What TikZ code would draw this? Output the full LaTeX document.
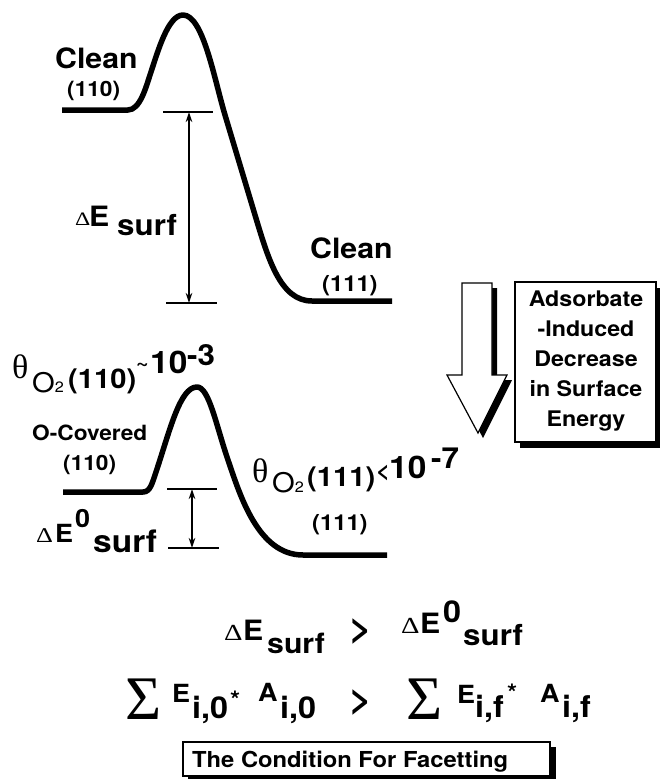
\documentclass[tikz,border=0pt]{standalone}
\usepackage{fontspec}
\setmainfont{TeX Gyre Heros}[FakeStretch=1.08]
\newfontfamily\symf{Liberation Serif}
\newfontfamily\symw{Liberation Serif}[FakeStretch=1.25]
\usetikzlibrary{arrows.meta}
\newcommand\fsz[1]{\fontsize{#1}{#1}\selectfont}
\newcommand\GDelta{\char"0394\relax}
\newcommand\Gtheta{\char"03B8\relax}
\newcommand\GSigma{\char"03A3\relax}
\tikzset{
  lbl/.style={inner sep=0pt, anchor=base west, font=\bfseries\fsz{#1}},
  rlbl/.style={inner sep=0pt, anchor=base west, font=\fsz{#1}},
  sym/.style={inner sep=0pt, anchor=base west, font=\symf\fsz{#1}},
  dsym/.style={inner sep=0pt, anchor=base west, font=\symw\fsz{#1}},
  curve/.style={line width=5.5pt, line join=round},
  ticks/.style={line width=1.4pt},
  dimarrow/.style={line width=1.8pt, {Stealth[length=10pt,width=6.5pt]}-{Stealth[length=10pt,width=6.5pt]}},
  framebox/.style={draw=black, fill=white, line width=1.4pt},
  shadowfill/.style={fill=black},
}
\begin{document}
\begin{tikzpicture}[x=1pt, y=-1pt]
\useasboundingbox (0,0) rectangle (660,779);

% ---------- top energy profile ----------
\draw[curve] (62,110) -- (128,110) .. controls (140,110) and (146,87) .. (150,75)
  .. controls (158,51) and (168,15) .. (183,15)
  .. controls (203,15) and (214,78) .. (225,115) -- (255,215)
  .. controls (268,258) and (280,301) .. (312,301) -- (392,301);
\coordinate (t1a) at (163,112); \coordinate (t1b) at (213,112);
\coordinate (t2a) at (166,303); \coordinate (t2b) at (217,303);
\coordinate (d1a) at (189,112); \coordinate (d1b) at (189,303);
\draw[ticks] (t1a) -- (t1b);
\draw[ticks] (t2a) -- (t2b);
\draw[dimarrow] (d1a) -- (d1b);

\node[lbl=28] (clean1) at (55,68) {Clean};
\node[lbl=21] (p110a) at (67,96) {(110)};
\node[lbl=28] (clean2) at (310,258) {Clean};
\node[lbl=22] (p111a) at (322,291) {(111)};
\node[dsym=19] (dA) at (75,225) {\GDelta};
\node[lbl=28] (eA) at (89,226) {E};
\node[lbl=29] (sA) at (117,235) {surf};

% ---------- lower energy profile ----------
\draw[curve] (63,492) -- (143,492) .. controls (150,492) and (152,484) .. (156,472)
  .. controls (170,430) and (180,387) .. (197,387)
  .. controls (209,387) and (216,425) .. (228,460)
  .. controls (240,495) and (258,555) .. (303,555) -- (387,555);
\coordinate (t3a) at (167,489); \coordinate (t3b) at (217,489);
\coordinate (t4a) at (168,548); \coordinate (t4b) at (219,548);
\coordinate (d2a) at (192,489); \coordinate (d2b) at (192,548);
\draw[ticks] (t3a) -- (t3b);
\draw[ticks] (t4a) -- (t4b);
\draw[dimarrow] (d2a) -- (d2b);

\node[lbl=21] (ocov) at (32,440) {O-Covered};
\node[lbl=21] (p110b) at (63,470) {(110)};
\node[lbl=22] (p111b) at (312,530) {(111)};
\node[dsym=21] (dB) at (36,542) {\GDelta};
\node[lbl=25] (eB) at (55,542) {E};
\node[lbl=25] (zB) at (75,527) {0};
\node[lbl=31] (sB) at (93,552) {surf};

% theta labels
\node[sym=34] (th1) at (12,378) {\Gtheta};
\node[rlbl=27] (o1) at (32,392) {O{\fsz{15}2}};
\node[lbl=27] (q1) at (68,388) {(110)};
\node[lbl=20] (tl1) at (136,369) {\char"7E};
\node[lbl=31] (ten1) at (150,373) {10};
\node[lbl=29] (ex1) at (187,365) {-3};

\node[sym=34] (th2) at (252,482) {\Gtheta};
\node[rlbl=27] (o2) at (272,492) {O{\fsz{15}2}};
\node[lbl=27] (q2) at (307,486) {(111)};
\node[lbl=22] (lt2) at (376,478) {<};
\node[lbl=31] (ten2) at (389,478) {10};
\node[lbl=29] (ex2) at (431,468) {-7};

% ---------- big hollow arrow ----------
\fill[shadowfill] (467,288) -- (497,288) -- (497,380) -- (512,380) -- (483,438) -- (452,380) -- (467,380) -- cycle;
\draw[framebox, line width=1.2pt] (462,283) -- (492,283) -- (492,375) -- (507,375) -- (478,433) -- (447,375) -- (462,375) -- cycle;

% ---------- right box ----------
\fill[shadowfill] (520,288) rectangle (662,448);
\draw[framebox] (515,282) rectangle (656,442);
\node[inner sep=0pt, align=center, font=\bfseries\fsz{21.5}, execute at begin node=\setlength{\baselineskip}{30pt}] (adsorb) at (586,361)
  {Adsorbate\\-Induced\\Decrease\\in Surface\\Energy};

% ---------- condition ----------
\node[dsym=23] (dC) at (224,640) {\GDelta};
\node[lbl=28] (eC) at (243,640) {E};
\node[lbl=28] (sC) at (267,653) {surf};
\node[lbl=36] (gt1) at (349,640) {>};
\node[dsym=23] (dD) at (401,633) {\GDelta};
\node[lbl=28] (eD) at (420,633) {E};
\node[lbl=30] (zD) at (443,622) {0};
\node[lbl=29] (sD) at (463,645) {surf};

\node[sym=62] (sig1) at (125,719) {\GSigma};
\node[lbl=25] (eE) at (172,702) {E};
\node[lbl=30] (iE) at (192,718) {i,0};
\node[lbl=24] (stE) at (230,708) {*};
\node[lbl=25] (aE) at (258,701) {A};
\node[lbl=30] (iA) at (280,718) {i,0};
\node[lbl=36] (gt2) at (349,711) {>};
\node[sym=62] (sig2) at (406,719) {\GSigma};
\node[lbl=25] (eF) at (457,703) {E};
\node[lbl=30] (iF) at (475,717) {i,f};
\node[lbl=24] (stF) at (507,701) {*};
\node[lbl=25] (aF) at (540,702) {A};
\node[lbl=30] (iAF) at (562,717) {i,f};

\fill[shadowfill] (188,747) rectangle (556,782);
\draw[framebox] (183,742) rectangle (550,776);
\node[lbl=22] (cond) at (192,767) {The Condition For Facetting};
\end{tikzpicture}
\end{document}
